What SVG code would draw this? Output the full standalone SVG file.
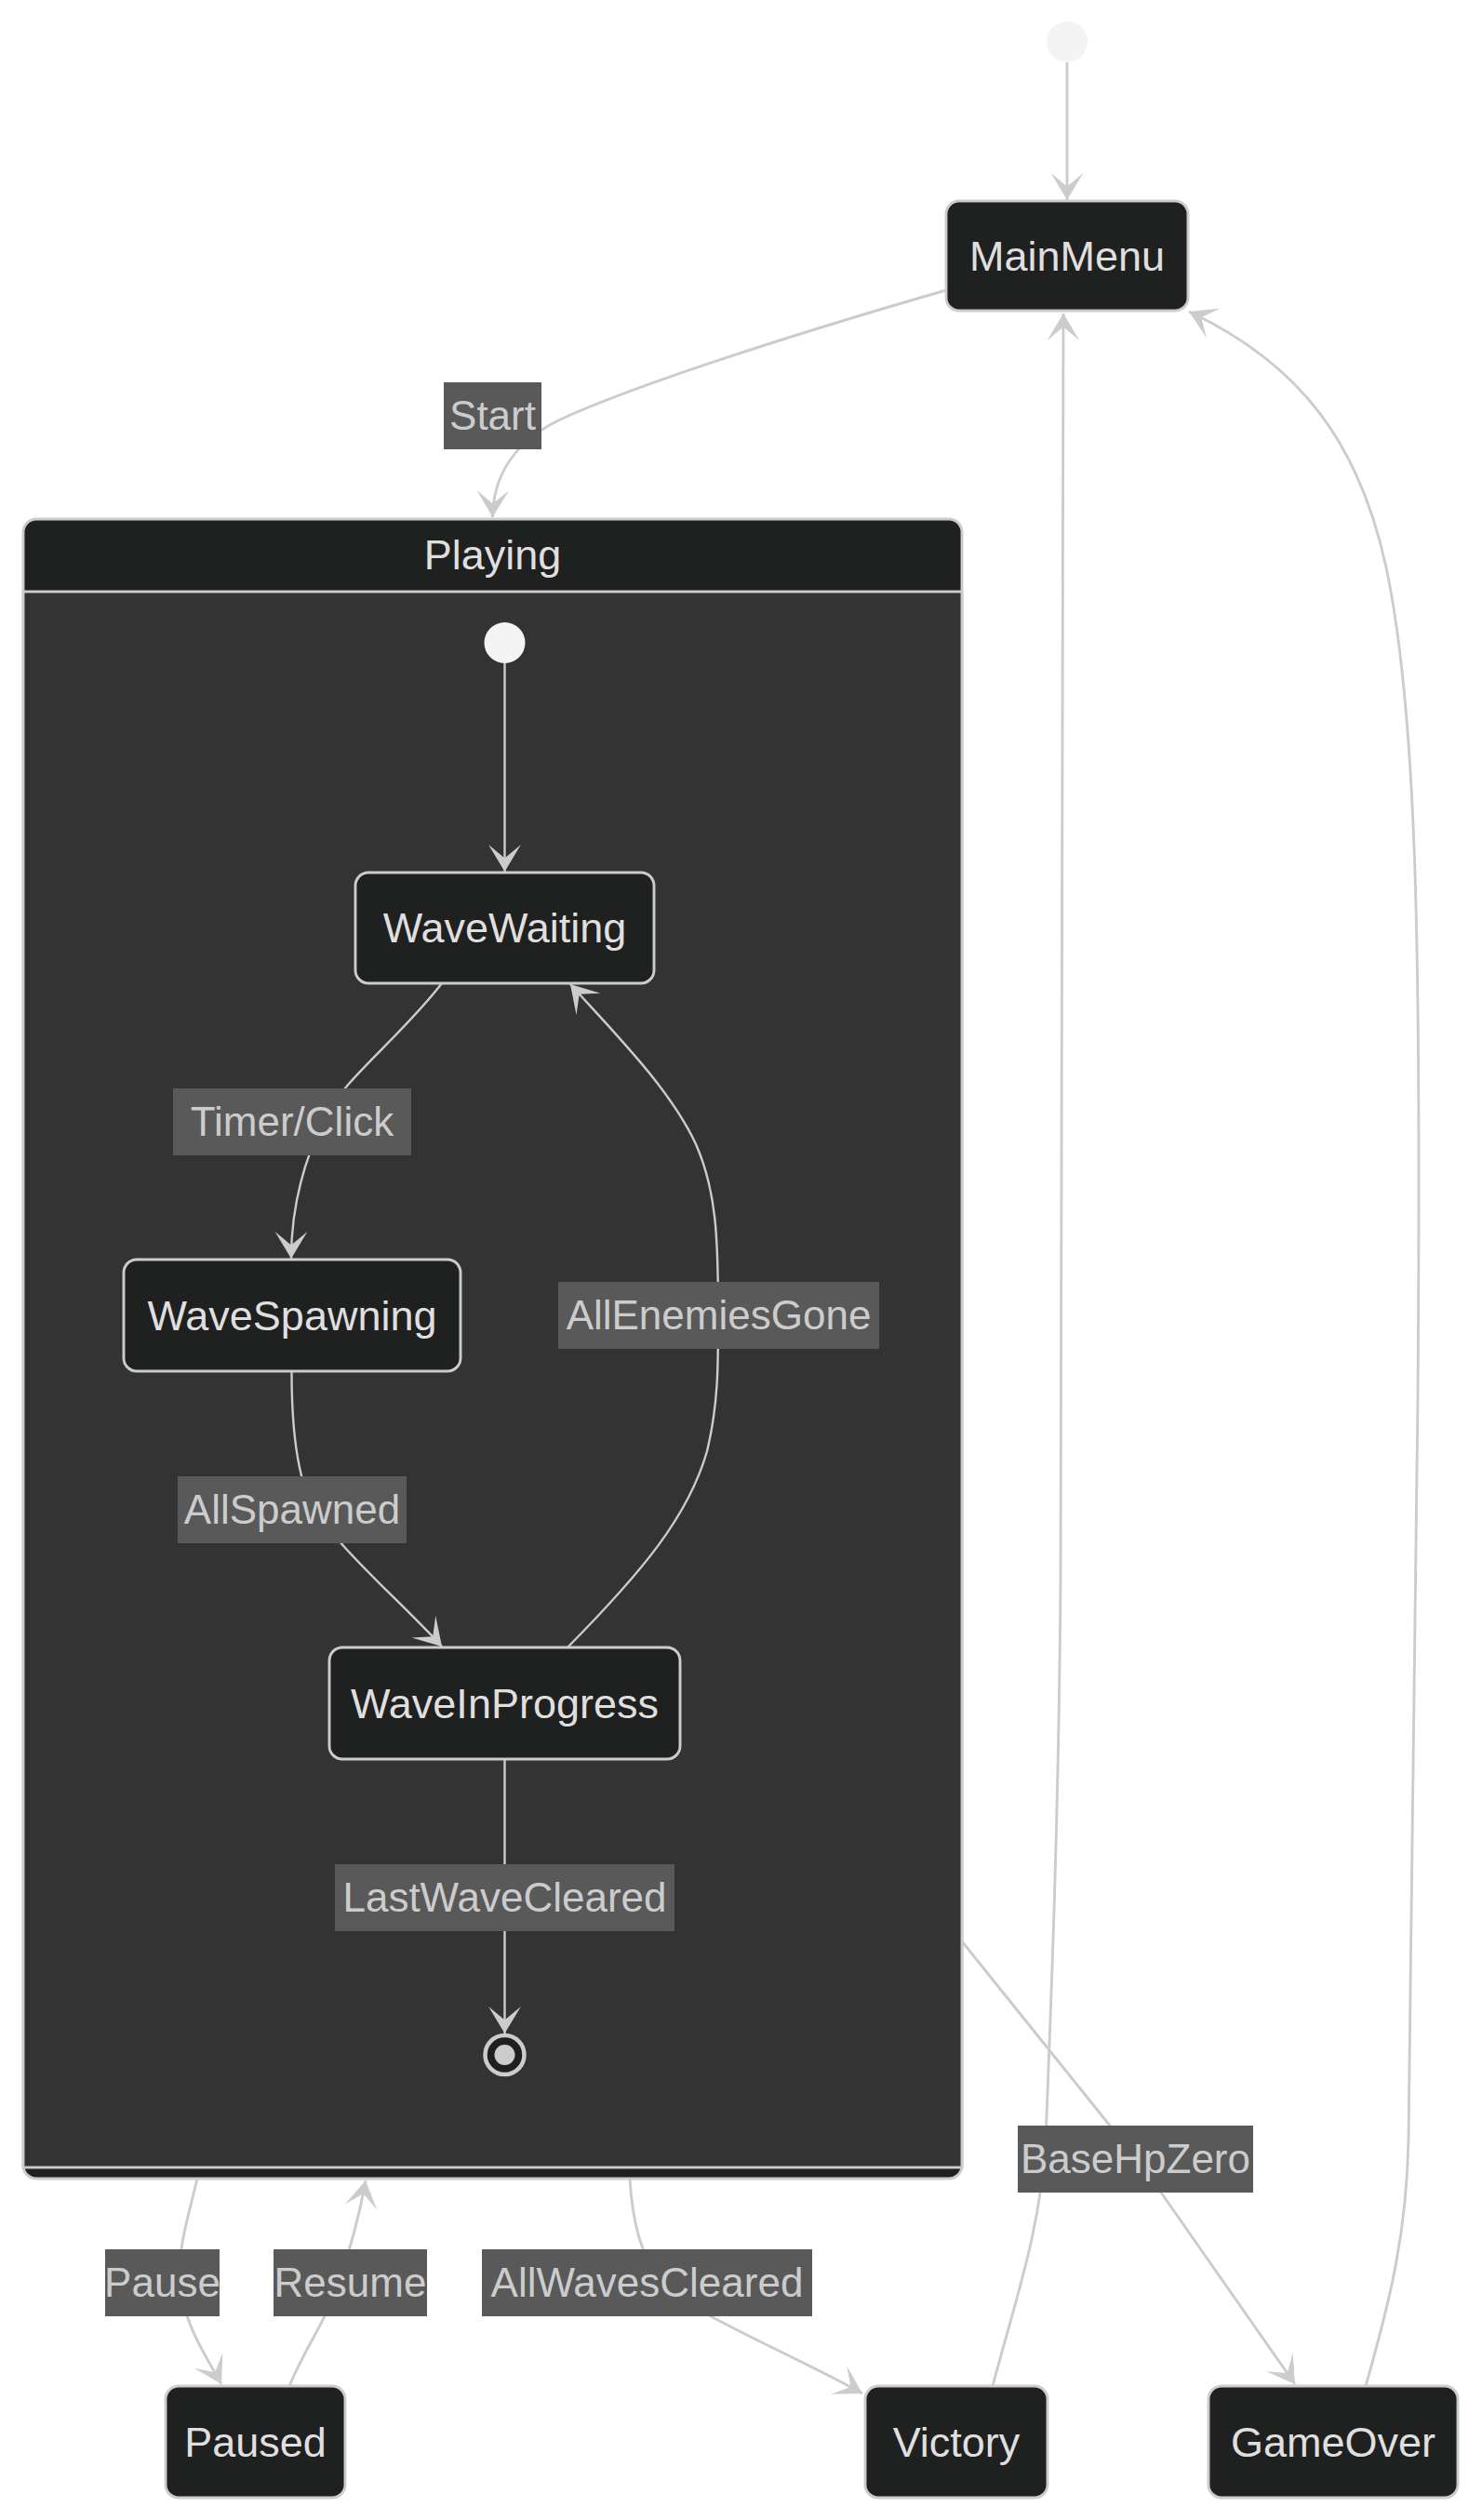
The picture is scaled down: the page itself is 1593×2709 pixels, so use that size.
<svg xmlns="http://www.w3.org/2000/svg" width="1593" height="2709" viewBox="0 0 1593 2709">
<style>
  .node rect { fill: #1f2020; stroke: #ccc; stroke-width: 2.9; }
  .ntext { font-family: "Liberation Sans", Arial, sans-serif; font-size: 45px; fill: #e0dfdf; text-anchor: middle; }
  .ltext { font-family: "Liberation Sans", Arial, sans-serif; font-size: 44px; fill: #ccc; text-anchor: middle; }
  .lbg { fill: #595959; }
  .edge { fill: none; stroke: #cccccc; stroke-width: 2.9; marker-end: url(#barb); }
  .iedge { fill: none; stroke: #cccccc; stroke-width: 2.4; marker-end: url(#barb); }
  .start { fill: #f4f4f4; }
</style>
<defs>
  <marker id="barb" markerUnits="userSpaceOnUse" viewBox="-30 -18 31 36" refX="0" refY="0" markerWidth="31" markerHeight="36" orient="auto">
    <path d="M0,0 L-29,17.4 L-14.5,0 L-29,-17.4 Z" fill="#cccccc"/>
  </marker>
</defs>
<rect x="0" y="0" width="1593" height="2709" fill="#ffffff"/>

<g id="Playing">
  <rect x="25" y="558" width="1009" height="1784" rx="14" fill="#1f2020" stroke="#ccc" stroke-width="2.9"/>
  <rect x="25" y="636" width="1009" height="1694" fill="#333333" stroke="#ccc" stroke-width="2.9"/>
  <text class="ntext" x="529.5" y="612">Playing</text>
</g>

<g id="edges">
  <path class="edge" d="M1147,67 L1147,215"/>
  <path class="edge" d="M1017,312 C850,360 680,415 600,452 C560,472 530,505 529.5,556"/>
  <path class="iedge" d="M542.5,713 L542.5,937"/>
  <path class="iedge" d="M475,1057 C430,1115 370,1160 350,1200 C325,1250 313,1300 313,1353"/>
  <path class="iedge" d="M313.5,1475 C313.5,1530 318,1570 328,1600 C345,1650 420,1710 475,1770"/>
  <path class="iedge" d="M610,1771 C690,1690 740,1630 760,1560 C772,1510 772,1470 772,1414 C772,1330 770,1280 748,1230 C720,1170 660,1110 613,1058"/>
  <path class="iedge" d="M542.5,1892 L542.5,2186"/>
  <path class="edge" d="M212,2342 C202,2385 190,2420 194,2455 C198,2500 220,2530 238,2563"/>
  <path class="edge" d="M311,2565 C330,2520 350,2495 362,2460 C375,2420 385,2390 393,2344"/>
  <path class="edge" d="M677,2342 C680,2390 688,2420 710,2455 C750,2490 860,2535 927,2573"/>
  <path class="edge" d="M1034,2087 L1193,2285 Q1220,2320 1248,2357 L1392,2563"/>
  <path class="edge" d="M1067,2565 C1092,2470 1118,2400 1124,2300 C1130,2150 1138,1950 1140,1700 L1143,337"/>
  <path class="edge" d="M1468,2565 C1495,2470 1512,2400 1514,2300 L1524,1500 C1528,1000 1522,760 1490,610 C1462,480 1400,392 1278,335"/>
</g>

<g id="edge-labels">
  <g id="lbl-start"><rect class="lbg" x="477" y="411" width="105" height="72"/><text class="ltext" x="529.5" y="462">Start</text></g>
  <g id="lbl-timer"><rect class="lbg" x="186" y="1170" width="256" height="72"/><text class="ltext" x="314" y="1221">Timer/Click</text></g>
  <g id="lbl-enemies"><rect class="lbg" x="600" y="1378" width="345" height="72"/><text class="ltext" x="772.5" y="1429">AllEnemiesGone</text></g>
  <g id="lbl-spawned"><rect class="lbg" x="191" y="1587" width="246" height="72"/><text class="ltext" x="314" y="1638">AllSpawned</text></g>
  <g id="lbl-last"><rect class="lbg" x="360" y="2004" width="365" height="72"/><text class="ltext" x="542.5" y="2055">LastWaveCleared</text></g>
  <g id="lbl-basehp"><rect class="lbg" x="1094" y="2285" width="253" height="72"/><text class="ltext" x="1220.5" y="2336">BaseHpZero</text></g>
  <g id="lbl-pause"><rect class="lbg" x="113" y="2418" width="123" height="72"/><text class="ltext" x="174.5" y="2469">Pause</text></g>
  <g id="lbl-resume"><rect class="lbg" x="294" y="2418" width="165" height="72"/><text class="ltext" x="376.5" y="2469">Resume</text></g>
  <g id="lbl-allwaves"><rect class="lbg" x="518" y="2418" width="355" height="72"/><text class="ltext" x="695.5" y="2469">AllWavesCleared</text></g>
</g>

<g id="root-start"><circle class="start" cx="1147" cy="45" r="22"/></g>
<g id="MainMenu" class="node"><rect x="1017" y="216" width="260" height="118" rx="14"/><text class="ntext" x="1147" y="291">MainMenu</text></g>

<g id="playing-start"><circle class="start" cx="542.5" cy="691" r="22"/></g>
<g id="WaveWaiting" class="node"><rect x="382" y="938" width="321" height="119" rx="14"/><text class="ntext" x="542.5" y="1013">WaveWaiting</text></g>
<g id="WaveSpawning" class="node"><rect x="133" y="1354" width="362" height="120" rx="14"/><text class="ntext" x="314" y="1430">WaveSpawning</text></g>
<g id="WaveInProgress" class="node"><rect x="354" y="1771" width="377" height="120" rx="14"/><text class="ntext" x="542.5" y="1847">WaveInProgress</text></g>
<g id="playing-end"><circle cx="542.5" cy="2209" r="21" fill="#1f2020" stroke="#ccc" stroke-width="4.5"/><circle cx="542.5" cy="2209" r="11" fill="#cccccc"/></g>

<g id="Paused" class="node"><rect x="178" y="2565" width="193" height="120" rx="14"/><text class="ntext" x="274.5" y="2641">Paused</text></g>
<g id="Victory" class="node"><rect x="930" y="2565" width="196" height="120" rx="14"/><text class="ntext" x="1028" y="2641">Victory</text></g>
<g id="GameOver" class="node"><rect x="1299" y="2565" width="268" height="120" rx="14"/><text class="ntext" x="1433" y="2641">GameOver</text></g>
</svg>
